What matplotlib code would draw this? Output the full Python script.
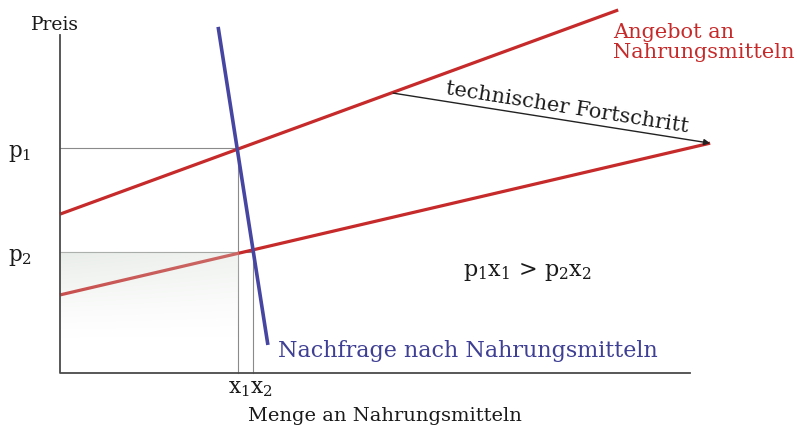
import numpy as np
import matplotlib
matplotlib.use("Agg")
import matplotlib.pyplot as plt

plt.rcParams['font.family'] = ['DejaVu Serif']
plt.rcParams['mathtext.fontset'] = 'dejavuserif'

# --- data (arbitrary units: quantity 0..100, price 0..100) ---
axis_x = [0, 0, 100]
axis_y = [100, 0, 0]

supply_old_q = [0.0, 88.6]
supply_old_p = [47.0, 107.4]
supply_new_q = [0.0, 103.2]
supply_new_p = [23.1, 68.0]
demand_q = [25.1, 33.0]
demand_p = [102.4, 8.3]

p1, x1 = 66.6, 28.3
p2, x2 = 35.8, 30.6

shift_start = (52.9, 82.8)
shift_end = (103.2, 68.0)

RED = '#c62a2a'
BLUE = '#4646a2'
TXT_BLUE = '#3f3f94'
GRID = '#8a8a8a'

fig = plt.figure(figsize=(8.08, 4.30), dpi=100)
ax = fig.add_axes([0, 0, 1, 1])
ax.set_xlim(-60 / 6.3, (808 - 60) / 6.3)
ax.set_ylim((373 - 430) / 3.38, 373 / 3.38)
ax.axis('off')

# guide lines
ax.plot([0, x1, x1], [p1, p1, 0], color=GRID, lw=0.8, zorder=1)
ax.plot([0, x2, x2], [p2, p2, 0], color=GRID, lw=0.8, zorder=1)

# supply & demand
ax.plot(supply_old_q, supply_old_p, color=RED, lw=2.3, solid_capstyle='butt', zorder=3)
ax.plot(supply_new_q, supply_new_p, color=RED, lw=2.3, solid_capstyle='butt', zorder=3)

# shaded revenue area (gradient) over the lower supply line
ny, nx = 120, 60
fy = np.linspace(1, 0, ny)[:, None] ** 1.3
fx = np.linspace(1, 0.35, nx)[None, :]
alpha = 0.5 * fy * (0.55 + 0.45 * fx)
img = np.zeros((ny, nx, 4))
img[..., 0] = 0.83
img[..., 1] = 0.86
img[..., 2] = 0.83
img[..., 3] = alpha
ax.imshow(img, extent=[0, x1, p2 - 26, p2], aspect='auto', origin='upper',
          interpolation='bilinear', zorder=4)

ax.plot(demand_q, demand_p, color=BLUE, lw=2.6, solid_capstyle='butt', zorder=5)

# axes
ax.plot(axis_x, axis_y, color='#4a4a4a', lw=1.3, zorder=6)

# arrow: technical progress
ax.annotate('', xy=shift_end, xytext=shift_start,
            arrowprops=dict(arrowstyle='-|>', color='#222222', lw=1.0,
                            mutation_scale=9, shrinkA=0, shrinkB=0), zorder=7)
ax.text(80.2, 75.6, 'technischer Fortschritt', rotation=-9, rotation_mode='anchor',
        ha='center', va='bottom', fontsize=15, color='#1a1a1a')

# labels
ax.text(-0.8, 103.0, 'Preis', ha='center', va='center', fontsize=13.5, color='#1a1a1a')
ax.text(-6.35, 65.2, r'p$_1$', ha='center', va='center', fontsize=15.5, color='#1a1a1a')
ax.text(-6.35, 34.3, r'p$_2$', ha='center', va='center', fontsize=15.5, color='#1a1a1a')
ax.text(30.2, -4.3, r'x$_1$x$_2$', ha='center', va='center', fontsize=15.5, color='#1a1a1a')
ax.text(29.8, -12.8, 'Menge an Nahrungsmitteln', ha='left', va='center',
        fontsize=14, color='#1a1a1a')
ax.text(87.8, 103.6, 'Angebot an\nNahrungsmitteln', ha='left', va='top',
        fontsize=15, color=RED, linespacing=1.05)
ax.text(34.6, 6.6, 'Nachfrage nach Nahrungsmitteln', ha='left', va='center',
        fontsize=16, color=TXT_BLUE)
ax.text(64.0, 30.0, r'p$_1$x$_1$ > p$_2$x$_2$', ha='left', va='center',
        fontsize=16, color='#1a1a1a')

fig.savefig('out.png', dpi=100)
